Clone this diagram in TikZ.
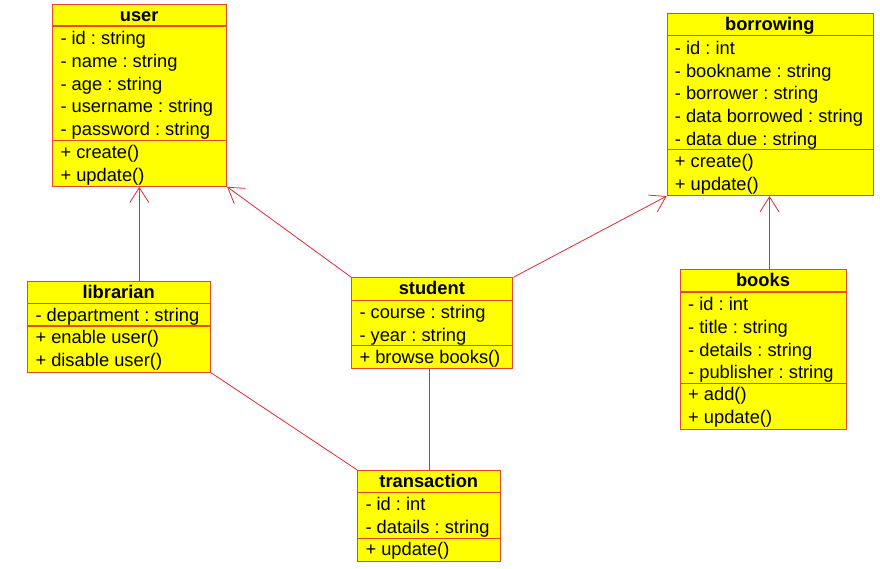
\documentclass[tikz,border=0pt]{standalone}
\usepackage{fontspec}
\setmainfont{Liberation Sans}
\usetikzlibrary{arrows.meta}
\definecolor{boxborder}{RGB}{228,72,40}
\definecolor{boxfill}{RGB}{255,255,0}
\definecolor{linkcol}{RGB}{232,40,50}
\tikzset{
  classbox/.style={draw=boxborder, fill=boxfill, line width=1.1pt, inner sep=0pt, anchor=north west},
  sepline/.style={draw=boxborder, line width=1.1pt},
  titletext/.style={anchor=base, inner sep=0pt, font=\fontsize{18.3pt}{20pt}\selectfont\bfseries},
  rowtext/.style={anchor=base west, inner sep=0pt, font=\fontsize{18.3pt}{20pt}\selectfont},
  assoc/.style={draw=linkcol, line width=0.8pt},
  inherit/.style={assoc, -{Straight Barb[length=15pt,width=19pt,line width=0.8pt]}},
}
% name, left, top, right, title line, ops line, bottom, title
\newcommand\umlbox[8]{%
  \node[classbox, minimum width={(#4-#2)*1pt}, minimum height={(#7-#3)*1pt}] (#1) at (#2,#3) {};
  \draw[sepline] (#2,#5) -- (#4,#5);
  \draw[sepline] (#2,#6) -- (#4,#6);
  \node[titletext] (#1-title) at ({(#2+#4)/2},{#3+17}) {#8};
}
% name, left, title line, list
\newcommand\umlattrs[4]{%
  \foreach \txt [count=\i] in {#4} {
    \node[rowtext] (#1-a\i) at ({#2+8},{#3+18.5+22.8*(\i-1)}) {\txt};
  }
}
\newcommand\umlops[4]{%
  \foreach \txt [count=\i] in {#4} {
    \node[rowtext] (#1-o\i) at ({#2+8},{#3+17.5+23*(\i-1)}) {\txt};
  }
}
\frenchspacing
\begin{document}
\begin{tikzpicture}[x=1pt,y=-1pt]
\useasboundingbox[fill=white] (0,0) rectangle (880,568);

% user
\umlbox{user}{52.3}{4}{226}{26}{140.7}{185.7}{user}
\umlattrs{user}{52.3}{26}{- id : string, - name : string, - age : string, - username : string, - password : string}
\umlops{user}{52.3}{140.7}{+ create(), + update()}

% borrowing
\umlbox{borrowing}{666.7}{13.3}{873}{35.7}{149.7}{195}{borrowing}
\umlattrs{borrowing}{666.7}{35.7}{- id : int, - bookname : string, - borrower : string, - data borrowed : string, - data due : string}
\umlops{borrowing}{666.7}{149.7}{+ create(), + update()}

% librarian
\umlbox{librarian}{27.3}{281}{210}{303.3}{326}{371.7}{librarian}
\umlattrs{librarian}{27.3}{303.3}{- department : string}
\umlops{librarian}{27.3}{326}{+ enable user(), + disable user()}

% student
\umlbox{student}{351.3}{277.3}{512.3}{300.3}{345.7}{368.3}{student}
\umlattrs{student}{351.3}{300.3}{- course : string, - year : string}
\umlops{student}{351.3}{345.7}{+ browse books()}

% books
\umlbox{books}{680}{269.3}{846}{292}{383.3}{428.7}{books}
\umlattrs{books}{680}{292}{- id : int, - title : string, - details : string, - publisher : string}
\umlops{books}{680}{383.3}{+ add(), + update()}

% transaction
\umlbox{transaction}{357.3}{470}{500.3}{492.3}{538.3}{561}{transaction}
\umlattrs{transaction}{357.3}{492.3}{- id : int, - datails : string}
\umlops{transaction}{357.3}{538.3}{+ update()}

% connectors
\draw[inherit] ([xshift=112pt]librarian.north west) -- ([xshift=87pt]user.south west);
\draw[inherit] (student.north west) -- (user.south east);
\draw[inherit] (student.north east) -- (borrowing.south west);
\draw[inherit] ([xshift=89.5pt]books.north west) -- ([xshift=102.8pt]borrowing.south west);
\draw[assoc] (librarian.south east) -- (transaction.north west);
\draw[assoc] ([xshift=77.7pt]student.south west) -- ([xshift=71.7pt]transaction.north west);
\end{tikzpicture}
\end{document}
